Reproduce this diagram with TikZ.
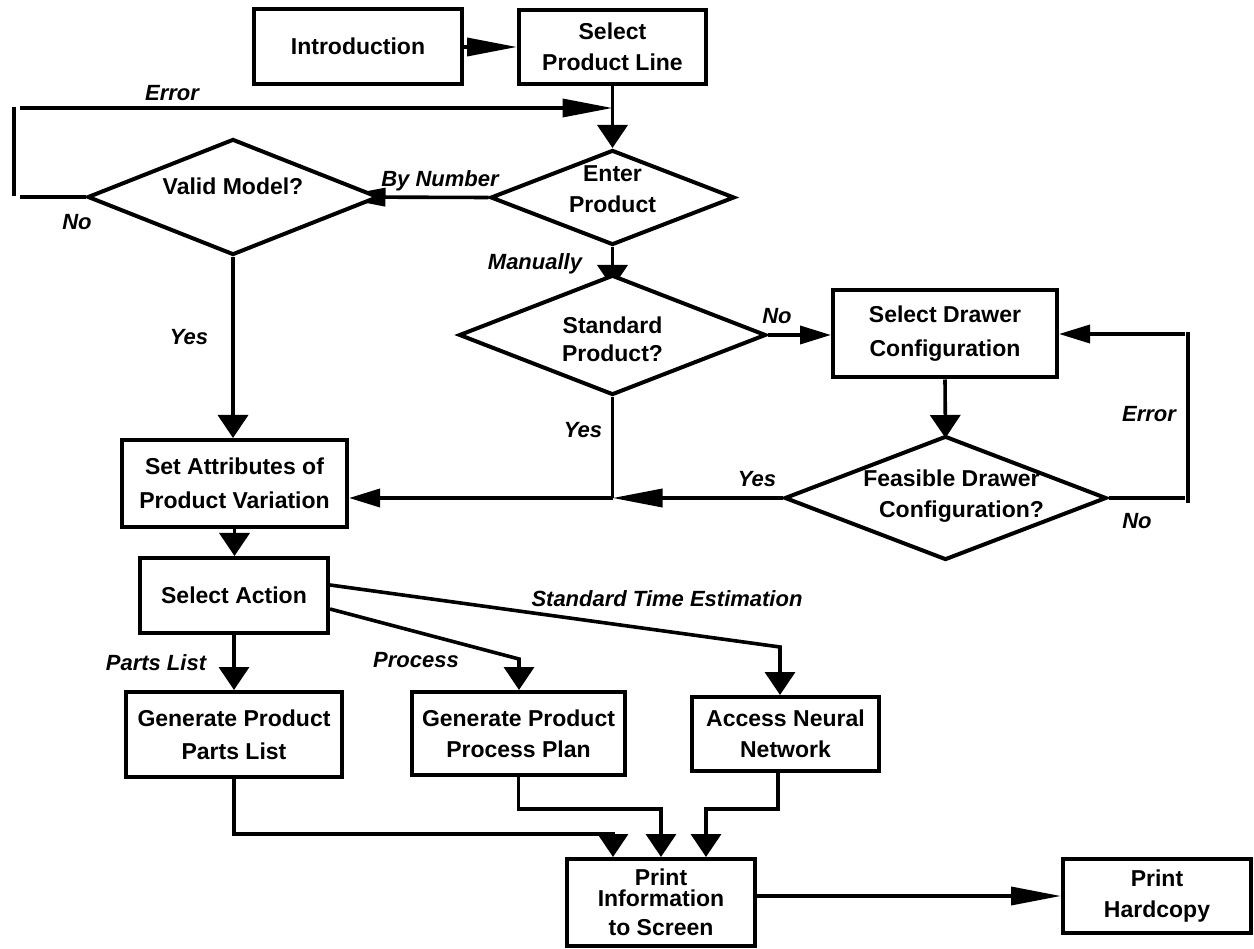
\documentclass[tikz,border=0pt]{standalone}
\usepackage{fontspec}
\setmainfont{Liberation Sans}
\usetikzlibrary{arrows.meta,shapes.geometric}
\pgfdeclarelayer{bg}
\pgfsetlayers{bg,main}
\begin{document}
\begin{tikzpicture}[x=1pt,y=-1pt,
 box/.style={draw, line width=4pt, fill=white, align=center, inner sep=2pt, font=\bfseries\fontsize{23}{31}\selectfont},
 dia/.style={draw, shape=diamond, line width=4pt, fill=white, inner sep=0pt},
 dtext/.style={align=center, font=\bfseries\fontsize{23}{31}\selectfont},
 lbl/.style={font=\bfseries\itshape\fontsize{22}{25}\selectfont, anchor=base},
 conn/.style={line width=3.6pt},
 harr/.style={conn, -{Triangle[length=50pt,width=18pt]}},
 sharr/.style={conn, -{Triangle[length=31pt,width=18pt]}},
 varr/.style={conn, -{Triangle[length=23pt,width=30pt]}},
]
\useasboundingbox (0,0) rectangle (1254,949);

% boxes
\node[box, minimum width=208pt, minimum height=75pt] (intro) at (358,46.5) {Introduction};
\node[box, minimum width=187pt, minimum height=74pt] (spl) at (612.5,47) {Select\\Product Line};
\node[box, minimum width=224pt, minimum height=87pt] (sdc) at (945,334) {Select Drawer\\[3pt]Configuration};
\node[box, minimum width=225pt, minimum height=87pt] (sa) at (234.5,483.5) {Set Attributes of\\[3pt]Product Variation};
\node[box, minimum width=188pt, minimum height=75pt] (act) at (234,595.5) {Select Action};
\node[box, minimum width=216pt, minimum height=85pt] (gpl) at (234,734.5) {Generate Product\\[2pt]Parts List};
\node[box, minimum width=213pt, minimum height=83pt] (gpp) at (518.5,733.5) {Generate Product\\Process Plan};
\node[box, minimum width=187pt, minimum height=74pt] (ann) at (785.5,734) {Access Neural\\Network};
\node[box, minimum width=188pt, minimum height=87pt] (pis) at (661,902.5) {Print\\[-10pt]Information\\[-2pt]to Screen};
\node[box, minimum width=188pt, minimum height=74pt] (phc) at (1157,896) {Print\\Hardcopy};

% diamonds
\node[dia, minimum width=291pt, minimum height=116pt,
  label={[dtext, yshift=11pt]center:Valid Model?}] (vm) at (233,197) {};
\node[dia, minimum width=244pt, minimum height=95pt,
  label={[dtext, yshift=8pt]center:Enter\\Product}] (ep) at (612.5,197.5) {};
\node[dia, minimum width=307pt, minimum height=120pt,
  label={[dtext, yshift=-4pt]center:Standard\\[-3pt]Product?}] (sp) at (612.5,335) {};
\node[dia, minimum width=322pt, minimum height=124pt,
  label={[dtext, xshift=6pt, yshift=2pt]center:Feasible Drawer\\\hspace*{20pt}Configuration?}] (fd) at (945.5,498) {};

% helper coordinates
\coordinate (e1) at (20,108);
\coordinate (e2) at (14,107);
\coordinate (e3) at (14,196);
\coordinate (e4) at (20,197);
\coordinate (r1) at (1185,498);
\coordinate (r2) at (1188,332);
\coordinate (r3) at (1188,503);
\coordinate (r4) at (1185,334);
\coordinate (j) at (612.5,498);
\coordinate (p1) at (519,659);
\coordinate (s1) at (780,647);
\coordinate (b1) at (613,834);
\coordinate (b2) at (661,809);
\coordinate (b3) at (706,809);

\begin{pgfonlayer}{bg}
\draw[harr] (intro.east |- spl.west) -- (spl.west);
\draw[varr] (spl.south) -- (ep.north);
\draw[harr] (e1) -- (e1 -| spl.south);
\draw[conn] (e2) -- (e3);
\draw[conn] (vm.west) -- (e4);
\draw[harr] (ep.west) -- ([xshift=-45pt]vm.east);
\draw[varr] (ep.south) -- ([yshift=-15pt]sp.north);
\draw[sharr] (sp.east) -- (sp.east -| sdc.west);
\draw[varr] (sdc.south) -- ([yshift=-4pt]fd.north);
\draw[conn] (fd.east) -- (r1);
\draw[conn] (r2) -- (r3);
\draw[sharr] (r4) -- (r4 -| sdc.east);
\draw[conn] (sp.south) -- (j);
\draw[harr] (fd.west) -- (j);
\draw[sharr] (j) -- (j -| sa.east);
\draw[varr] (vm.south) -- (vm.south |- sa.north);
\draw[varr] (sa.south) -- (sa.south |- act.north);
\draw[varr] (act.south) -- (act.south |- gpl.north);
\draw[varr] ([yshift=-13.5pt]act.east) -- (p1) -- (p1 |- gpp.north);
\draw[varr] ([yshift=10.5pt]act.east) -- (s1) -- (s1 |- ann.north);
\draw[varr] (gpl.south) |- (b1) -- (b1 |- pis.north);
\draw[varr] (gpp.south) |- (b2) -- (b2 |- pis.north);
\draw[varr] ([xshift=-7.5pt]ann.south) |- (b3) -- (b3 |- pis.north);
\draw[harr] (phc.west -| pis.east) -- (phc.west);
\end{pgfonlayer}

% connector labels
\node[lbl] (l1) at (172,101) {Error};
\node[lbl] (l2) at (77,230) {No};
\node[lbl] (l3) at (440,187) {By Number};
\node[lbl] (l4) at (535,270) {Manually};
\node[lbl] (l5) at (189,345) {Yes};
\node[lbl] (l6) at (777,324) {No};
\node[lbl] (l7) at (583,438) {Yes};
\node[lbl] (l8) at (757,487) {Yes};
\node[lbl] (l9) at (1149,422) {Error};
\node[lbl] (l10) at (1137,529) {No};
\node[lbl] (l11) at (156,670) {Parts List};
\node[lbl] (l12) at (416,667) {Process};
\node[lbl] (l13) at (667,606) {Standard Time Estimation};
\end{tikzpicture}
\end{document}
